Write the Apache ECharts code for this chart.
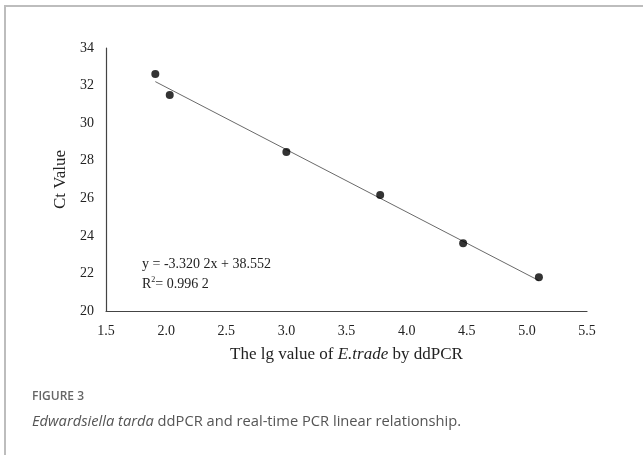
<!DOCTYPE html>
<html>
<head>
<meta charset="utf-8">
<script src="https://cdn.jsdelivr.net/npm/echarts@6/dist/echarts.min.js"></script>
<style>
html,body{margin:0;padding:0;background:#fff;}
#chart{width:643px;height:455px;}
</style>
</head>
<body>
<div id="chart"></div>
<script>
// Data
const lgValues = [1.91, 2.03, 3.00, 3.78, 4.47, 5.10];
const ctValues = [32.62, 31.50, 28.47, 26.17, 23.60, 21.79];
const slope = -3.3202;
const intercept = 38.552;
const xTicks = ['1.5','2.0','2.5','3.0','3.5','4.0','4.5','5.0','5.5'];
const yTicks = ['20','22','24','26','28','30','32','34'];
const equationText = 'y = -3.320 2x + 38.552';
const r2Value = '0.996 2';
const captionLabel = 'FIGURE 3';
const captionItalic = 'Edwardsiella tarda';
const captionRest = ' ddPCR and real-time PCR linear relationship.';

const points = lgValues.map((x, i) => [x, ctValues[i]]);
const xMin = Math.min(...lgValues), xMax = Math.max(...lgValues);
const trend = [[xMin, slope * xMin + intercept], [xMax, slope * xMax + intercept]];

const serif = '"Liberation Serif", "Times New Roman", serif';
const chart = echarts.init(document.getElementById('chart'), null, {renderer: 'canvas'});
chart.setOption({
  animation: false,
  backgroundColor: '#fff',
  grid: {left: 106, top: 48, right: 56, bottom: 144, containLabel: false},
  xAxis: {
    type: 'value', min: 1.5, max: 5.5, interval: 0.5,
    axisLine: {show: true, onZero: false, lineStyle: {color: '#444', width: 1.2}},
    axisTick: {show: false},
    splitLine: {show: false},
    axisLabel: {color: '#222', fontFamily: serif, fontSize: 14, margin: 13,
      formatter: v => xTicks[Math.round((v - 1.5) / 0.5)]},
    name: '{n|The lg value of }{i|E.trade}{n| by ddPCR}',
    nameLocation: 'middle', nameGap: 35,
    nameTextStyle: {rich: {
      n: {fontFamily: serif, fontSize: 17, color: '#222'},
      i: {fontFamily: serif, fontSize: 17, color: '#222', fontStyle: 'italic'}
    }}
  },
  yAxis: {
    type: 'value', min: 20, max: 34, interval: 2,
    axisLine: {show: true, onZero: false, lineStyle: {color: '#444', width: 1.2}},
    axisTick: {show: false},
    splitLine: {show: false},
    axisLabel: {color: '#222', fontFamily: serif, fontSize: 14, margin: 12,
      formatter: v => yTicks[Math.round((v - 20) / 2)]},
    name: 'Ct Value', nameLocation: 'middle', nameGap: 33, nameRotate: 90,
    nameTextStyle: {fontFamily: serif, fontSize: 17, color: '#222'}
  },
  series: [
    {
      type: 'line', data: trend, symbol: 'none', silent: true,
      lineStyle: {color: '#6a6a6a', width: 1}, z: 1
    },
    {
      type: 'scatter', data: points, symbol: 'circle', symbolSize: 8,
      itemStyle: {color: '#000'}, z: 2
    }
  ],
  graphic: [
    {type: 'rect', shape: {x: 4, y: 5, width: 639, height: 2}, style: {fill: '#bdbdbd'}},
    {type: 'rect', shape: {x: 4, y: 5, width: 2, height: 450}, style: {fill: '#bdbdbd'}},
    {type: 'text', left: 142, top: 257, style: {text: equationText, font: '14px ' + serif, fill: '#222'}},
    {type: 'text', left: 142, top: 276, style: {
      text: '{a|R}{s|2}{a|= ' + r2Value + '}',
      rich: {
        a: {font: '14px ' + serif, fill: '#222', verticalAlign: 'bottom'},
        s: {font: '8px ' + serif, fill: '#222', verticalAlign: 'top', padding: [0, 0, 7, 0]}
      }
    }},
    {type: 'text', left: 32, top: 391, style: {text: captionLabel, font: '600 12px "Open Sans", sans-serif', fill: '#666'}},
    {type: 'text', left: 32, top: 414, style: {
      text: '{i|' + captionItalic + '}{n|' + captionRest + '}',
      rich: {
        i: {font: 'italic 14.7px "Open Sans", sans-serif', fill: '#555'},
        n: {font: '14.7px "Open Sans", sans-serif', fill: '#555'}
      }
    }}
  ]
});
</script>
</body>
</html>
